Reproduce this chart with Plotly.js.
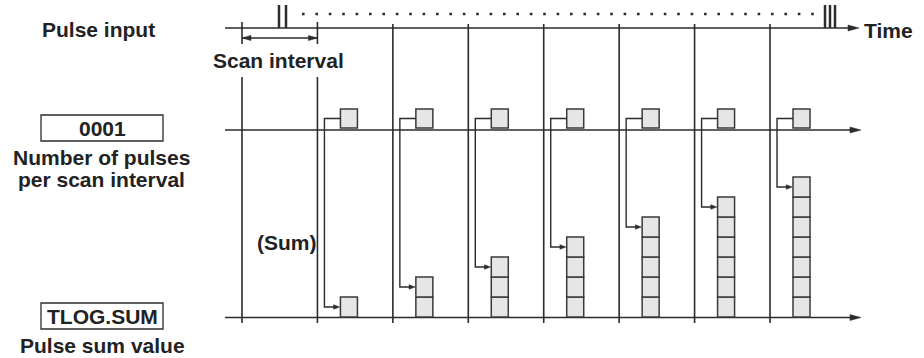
<!DOCTYPE html>
<html>
<head>
<meta charset="utf-8">
<script src="https://cdn.plot.ly/plotly-3.0.1.min.js"></script>
<style>html,body{margin:0;padding:0;background:#fff;}#chart{width:924px;height:358px;}</style>
</head>
<body>
<div id="chart"></div>
<script>
// ---- data ----
const scanIndex = [1, 2, 3, 4, 5, 6, 7];          // scan intervals (after the first one)
const pulsesPerScan = [1, 1, 1, 1, 1, 1, 1];      // TLOG "0001": pulses counted each scan
const pulseSum = [1, 2, 3, 4, 5, 6, 7];           // TLOG.SUM: accumulated pulses
const scanBoundaries = [0, 1, 2, 3, 4, 5, 6, 7];  // scan interval boundaries
const labels = {
  pulseInput: "Pulse input",
  scanInterval: "Scan interval",
  time: "Time",
  count: "0001",
  countDesc1: "Number of pulses",
  countDesc2: "per scan interval",
  sum: "TLOG.SUM",
  sumDesc: "Pulse sum value",
  sumTag: "(Sum)"
};

// ---- geometry (layout) ----
const W = 924, H = 358;
const PX = 75.43, PY = 20;          // pixels per scan interval / per count unit
const X0 = 242 / PX, Y0 = 317 / PY; // origin offset
const xr = [-X0, W / PX - X0];
const yr = [Y0 - H / PY, Y0];
const fx = p => p / PX - X0;        // helpers for fixed decorations
const fy = p => Y0 - p / PY;
const ink = '#2b2b2b';
const lineW = 1.6;
const sqFill = '#e6e6e6';
const sqLine = '#3a3a3a';
const sqOff = 23 / PX, sqW = 17 / PX;
const connOff = 7 / PX;
const topBase = fy(128), topH = 0.95;

const shapes = [];
function line(x0, y0, x1, y1, w, col, dash) {
  shapes.push({type: 'line', xref: 'x', yref: 'y', x0, y0, x1, y1, layer: 'above',
    line: {color: col || ink, width: w || lineW, dash: dash || 'solid'}});
}
function tri(tipX, tipY, dir, lenPx, halfPx) {
  const L = lenPx / PX * dir, h = halfPx / PY;
  shapes.push({type: 'path', xref: 'x', yref: 'y', layer: 'above',
    path: `M ${tipX} ${tipY} L ${tipX - L} ${tipY + h} L ${tipX - L} ${tipY - h} Z`,
    fillcolor: ink, line: {color: ink, width: 0.5}});
}

// time axis
line(fx(225), fy(28), fx(850), fy(28));
tri(fx(859), fy(28), 1, 11, 3);
// count axis
line(fx(225), fy(130), fx(852), fy(130));
tri(fx(861), fy(130), 1, 11, 3);
// sum axis
line(fx(225), fy(317.5), fx(852), fy(317.5));
tri(fx(861), fy(317.5), 1, 11, 3);

// scan boundary lines
scanBoundaries.forEach(t => {
  if (t <= 1) {
    line(t, fy(22), t, fy(44));
    line(t, fy(77), t, fy(323));
  } else {
    line(t, fy(24), t, fy(323));
  }
});
// scan interval dimension
line(0, fy(38), 1, fy(38), 1.3);
tri(0, fy(38), -1, 9, 2.6);
tri(1, fy(38), 1, 9, 2.6);

// pulse input marks
[279, 286].forEach(p => line(fx(p), fy(5), fx(p), fy(28), 2.5));
[825, 830, 835].forEach(p => line(fx(p), fy(5), fx(p), fy(28), 2.5));
// dotted continuation
line(fx(302), fy(14), fx(818), fy(14), 2.6, ink, '2.6px,10.8px');

// label boxes
shapes.push({type: 'rect', xref: 'x', yref: 'y', x0: fx(41), x1: fx(163), y0: fy(115), y1: fy(141),
  line: {color: ink, width: 1.3}, fillcolor: 'rgba(0,0,0,0)'});
shapes.push({type: 'rect', xref: 'x', yref: 'y', x0: fx(41), x1: fx(163), y0: fy(303), y1: fy(329),
  line: {color: ink, width: 1.3}, fillcolor: 'rgba(0,0,0,0)'});

// squares and connectors from data
scanIndex.forEach((s, i) => {
  const xl = s + sqOff;
  for (let k = 0; k < pulsesPerScan[i]; k++) {
    shapes.push({type: 'rect', xref: 'x', yref: 'y', layer: 'above',
      x0: xl, x1: xl + sqW, y0: topBase + k, y1: topBase + k + topH,
      fillcolor: sqFill, line: {color: sqLine, width: 1.5}});
  }
  for (let k = 0; k < pulseSum[i]; k++) {
    shapes.push({type: 'rect', xref: 'x', yref: 'y', layer: 'above',
      x0: xl, x1: xl + sqW, y0: k, y1: k + 1,
      fillcolor: sqFill, line: {color: sqLine, width: 1.5}});
  }
  const yTop = topBase + topH / 2;
  const yArr = pulseSum[i] - 0.5;
  const xc = s + connOff;
  const tipX = xl - 0.8 / PX;
  shapes.push({type: 'path', xref: 'x', yref: 'y', layer: 'above',
    path: `M ${xl} ${yTop} L ${xc} ${yTop} L ${xc} ${yArr} L ${tipX - 5 / PX} ${yArr}`,
    line: {color: ink, width: 1.4}});
  tri(tipX, yArr, 1, 6, 2.3);
});

// text
const font = {family: 'Liberation Sans, Arial, sans-serif', size: 21, color: '#222'};
const ann = [];
function text(t, px, py, anchor) {
  ann.push({text: '<b>' + t + '</b>', xref: 'x', yref: 'y', x: fx(px), y: fy(py),
    xanchor: anchor || 'center', yanchor: 'middle', showarrow: false, font});
}
text(labels.pulseInput, 98, 29);
text(labels.scanInterval, 278, 60);
text(labels.time, 862, 30, 'left');
text(labels.count, 102, 128);
text(labels.countDesc1, 101, 157);
text(labels.countDesc2, 101, 179);
text(labels.sum, 102, 316);
text(labels.sumDesc, 102, 345);
text(labels.sumTag, 287, 242);

Plotly.newPlot('chart', [], {
  width: W, height: H,
  margin: {l: 0, r: 0, t: 0, b: 0},
  paper_bgcolor: '#fff', plot_bgcolor: '#fff',
  xaxis: {range: xr, visible: false, fixedrange: true},
  yaxis: {range: yr, visible: false, fixedrange: true},
  showlegend: false,
  shapes, annotations: ann
}, {staticPlot: true, displayModeBar: false});
</script>
</body>
</html>
